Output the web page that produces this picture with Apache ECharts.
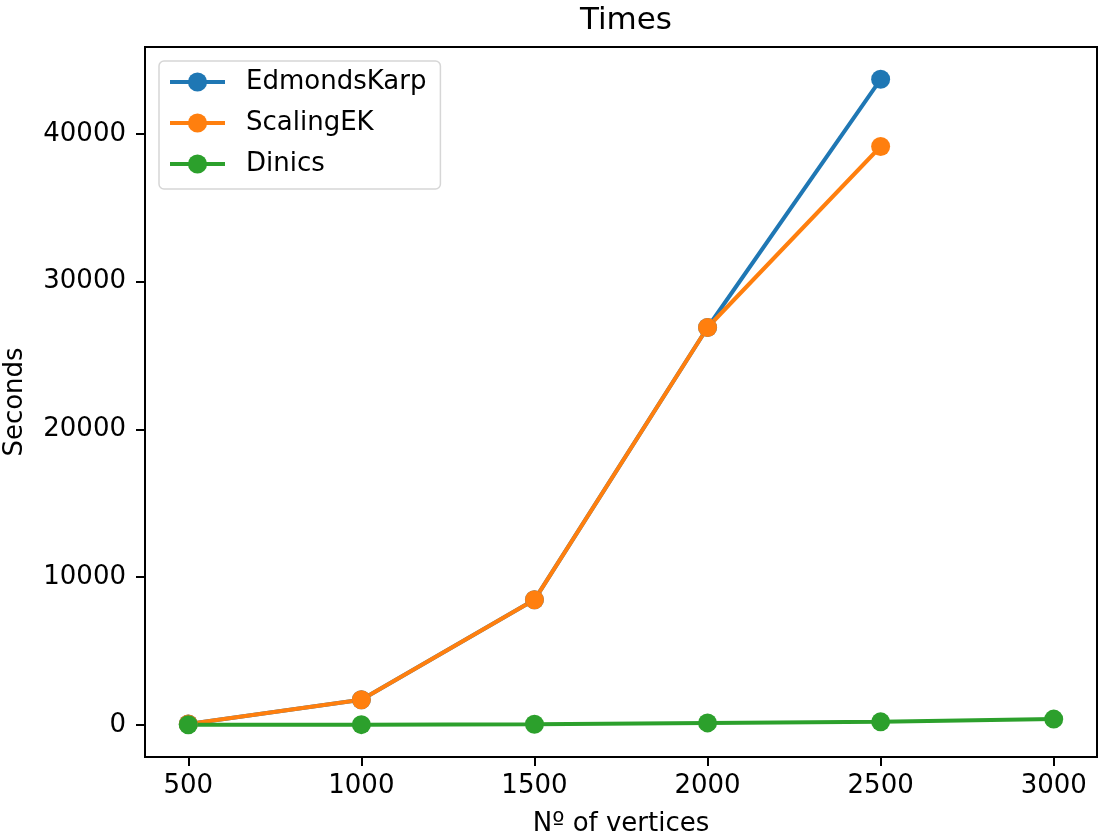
<!DOCTYPE html>
<html>
<head>
<meta charset="utf-8">
<script src="https://cdn.jsdelivr.net/npm/echarts@6/dist/echarts.min.js"></script>
<style>
html,body{margin:0;padding:0;background:#fff;}
#chart{width:1098px;height:836px;}
</style>
</head>
<body>
<div id="chart"></div>
<script>
var vertices = [500, 1000, 1500, 2000, 2500, 3000];
var edmondsKarp = [60, 1690, 8460, 26890, 43690];
var scalingEK = [60, 1690, 8460, 26890, 39140];
var dinics = [5, 10, 40, 130, 200, 386];
var xTicks = [500, 1000, 1500, 2000, 2500, 3000];
var yTicks = [0, 10000, 20000, 30000, 40000];

function pairs(xs, ys) { return ys.map(function (v, i) { return [xs[i], v]; }); }
function plain(v) { return String(v); }

var font = 'DejaVu Sans';
var chart = echarts.init(document.getElementById('chart'), null, {renderer: 'canvas'});
chart.setOption({
  animation: false,
  backgroundColor: '#ffffff',
  title: {
    text: 'Times', left: 621, top: 0, textAlign: 'center',
    textStyle: {fontFamily: font, fontSize: 31, fontWeight: 'normal', color: '#000'}
  },
  grid: {left: 145, right: 1, top: 47, bottom: 79, outerBoundsMode: 'none', containLabel: false,
         show: true, borderColor: '#000', borderWidth: 2, backgroundColor: 'transparent'},
  legend: {
    orient: 'vertical', left: 159, top: 61,
    padding: [8, 14, 12, 9],
    itemWidth: 55, itemHeight: 24, itemGap: 15,
    lineStyle: {width: 4},
    backgroundColor: '#fff', borderColor: '#d6d6d6', borderWidth: 1.5, borderRadius: 5,
    textStyle: {fontFamily: font, fontSize: 26, color: '#000', lineHeight: 26, padding: [0, 0, 0, 16]},
    data: ['EdmondsKarp', 'ScalingEK', 'Dinics']
  },
  xAxis: {
    type: 'value', min: 375, max: 3125,
    name: 'Nº of vertices', nameLocation: 'middle', nameGap: 54,
    nameTextStyle: {fontFamily: font, fontSize: 26, color: '#000'},
    axisLine: {show: true, onZero: false, lineStyle: {color: '#000', width: 2}},
    axisTick: {show: true, length: 9, lineStyle: {color: '#000', width: 2}, customValues: xTicks},
    axisLabel: {fontFamily: font, fontSize: 26, color: '#000', margin: 16, customValues: xTicks, formatter: plain},
    splitLine: {show: false}
  },
  yAxis: {
    type: 'value', min: -2179, max: 45874,
    name: 'Seconds', nameLocation: 'middle', nameGap: 117, nameRotate: 90,
    nameTextStyle: {fontFamily: font, fontSize: 26, color: '#000'},
    axisLine: {show: true, onZero: false, lineStyle: {color: '#000', width: 2}},
    axisTick: {show: true, length: 9, lineStyle: {color: '#000', width: 2}, customValues: yTicks},
    axisLabel: {fontFamily: font, fontSize: 26, color: '#000', margin: 19, customValues: yTicks, formatter: plain},
    splitLine: {show: false}
  },
  series: [
    {name: 'EdmondsKarp', type: 'line', data: pairs(vertices, edmondsKarp), color: '#1f77b4',
     symbol: 'circle', symbolSize: 19, lineStyle: {width: 4}},
    {name: 'ScalingEK', type: 'line', data: pairs(vertices, scalingEK), color: '#ff7f0e',
     symbol: 'circle', symbolSize: 19, lineStyle: {width: 4}},
    {name: 'Dinics', type: 'line', data: pairs(vertices, dinics), color: '#2ca02c',
     symbol: 'circle', symbolSize: 19, lineStyle: {width: 4}}
  ]
});
</script>
</body>
</html>
